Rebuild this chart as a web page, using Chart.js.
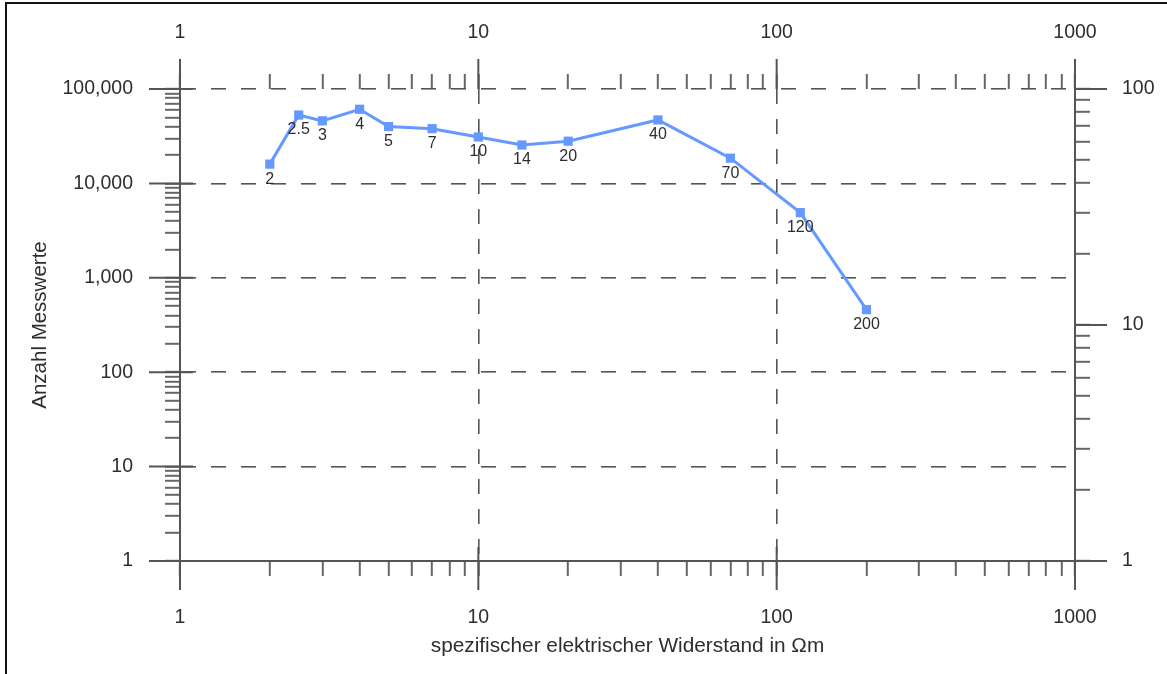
<!DOCTYPE html>
<html>
<head>
<meta charset="utf-8">
<script src="https://cdn.jsdelivr.net/npm/chart.js@4.4.1/dist/chart.umd.min.js"></script>
<style>
  html, body { margin: 0; padding: 0; background: #fff; overflow: hidden; }
  #wrap { position: absolute; left: 0; top: 0; width: 1167px; height: 674px; overflow: hidden; }
  #rahmen { position: absolute; left: 5px; top: 2px; width: 1300px; height: 800px; border: 2px solid #111; }
  canvas { position: absolute; left: 0; top: 0; }
</style>
</head>
<body>
<div id="wrap">
  <div id="rahmen"></div>
  <canvas id="myChart" width="1167" height="674"></canvas>
</div>
<script>
// Messwerte: spezifischer Widerstand (Ohm m) und Anzahl
const widerstand = [2, 2.5, 3, 4, 5, 7, 10, 14, 20, 40, 70, 120, 200];
const anzahl = [16000, 53000, 46000, 61000, 40000, 38000, 31000, 25500, 28000, 47000, 18500, 4900, 460];

// Dekaden der Achsen
const xDekaden = [1, 10, 100, 1000];
const yDekaden = [1, 10, 100, 1000, 10000, 100000];
const y2Dekaden = [1, 10, 100];

const achsFarbe = '#555';
const textFarbe = '#2e2e2e';
const linienFarbe = 'rgb(102,153,255)';

Chart.defaults.font.family = "'Liberation Sans', Arial, sans-serif";

function logTicks(dekaden) {
  let t = [];
  dekaden.forEach(function(d, i) {
    if (i == dekaden.length - 1) { t.push(d); return; }
    for (let k = 1; k < 10; k++) t.push(d * k);
  });
  return t;
}

function istDekade(v, dekaden) {
  return dekaden.some(d => Math.abs(d - v) < d * 1e-9);
}

// lange Striche an den Dekaden
const dekadenStriche = {
  id: 'dekadenStriche',
  afterDraw(chart) {
    const ctx = chart.ctx;
    const a = chart.chartArea;
    const s = chart.scales;
    ctx.save();
    ctx.strokeStyle = achsFarbe;
    ctx.lineWidth = 2;
    ctx.beginPath();
    yDekaden.forEach(function(v) {
      const py = s.y.getPixelForValue(v);
      ctx.moveTo(a.left - 31, py); ctx.lineTo(a.left + 13, py);
    });
    xDekaden.forEach(function(v) {
      const px = s.x.getPixelForValue(v);
      ctx.moveTo(px, a.bottom - 14); ctx.lineTo(px, a.bottom + 29);
      const px2 = s.x2.getPixelForValue(v);
      ctx.moveTo(px2, a.top); ctx.lineTo(px2, a.top - 30);
    });
    y2Dekaden.forEach(function(v) {
      const py = s.y2.getPixelForValue(v);
      ctx.moveTo(a.right, py); ctx.lineTo(a.right + 32, py);
    });
    ctx.stroke();
    ctx.restore();
  }
};

// Beschriftung unter jedem Punkt
const punktLabels = {
  id: 'punktLabels',
  afterDatasetsDraw(chart) {
    const ctx = chart.ctx;
    const meta = chart.getDatasetMeta(0);
    ctx.save();
    ctx.font = "16px 'Liberation Sans', Arial, sans-serif";
    ctx.fillStyle = textFarbe;
    ctx.textAlign = 'center';
    ctx.textBaseline = 'top';
    meta.data.forEach(function(pt, i) {
      ctx.fillText(String(widerstand[i]), pt.x, pt.y + 7);
    });
    ctx.restore();
  }
};

const gitter = function(dekaden, aufFlaeche) {
  return {
    drawOnChartArea: aufFlaeche,
    color: c => (c.tick && istDekade(c.tick.value, dekaden)) ? achsFarbe : 'rgba(0,0,0,0)',
    lineWidth: 1.6,
    tickLength: 15,
    tickColor: '#666',
    tickWidth: 2
  };
};

const tickFont = { size: 19.5 };

const ctx = document.getElementById('myChart').getContext('2d');
myChart = new Chart(ctx, {
  type: 'line',
  data: {
    datasets: [{
      label: 'Anzahl Messwerte',
      data: widerstand.map((w, i) => ({ x: w, y: anzahl[i] })),
      xAxisID: 'x',
      yAxisID: 'y',
      borderColor: linienFarbe,
      borderWidth: 3,
      backgroundColor: linienFarbe,
      pointStyle: 'rect',
      pointRadius: 6.5,
      pointBorderWidth: 0,
      pointBackgroundColor: linienFarbe,
      tension: 0
    }]
  },
  options: {
    responsive: false,
    animation: false,
    layout: { padding: 0 },
    plugins: {
      legend: { display: false },
      tooltip: { enabled: false }
    },
    scales: {
      x: {
        type: 'logarithmic',
        position: 'bottom',
        min: 1, max: 1000,
        afterBuildTicks: sc => { sc.ticks = logTicks(xDekaden).map(v => ({ value: v })); },
        afterFit: sc => { sc.height = 113; },
        grid: gitter(xDekaden, true),
        border: { display: true, color: achsFarbe, width: 2, dash: [15, 15] },
        ticks: {
          autoSkip: false, maxRotation: 0, padding: 30, color: textFarbe, font: tickFont,
          callback: v => istDekade(v, xDekaden) ? String(v) : ''
        },
        title: {
          display: true,
          text: 'spezifischer elektrischer Widerstand in Ωm',
          color: textFarbe,
          font: { size: 20.8 },
          padding: { top: 0, bottom: 15 }
        }
      },
      x2: {
        type: 'logarithmic',
        position: 'top',
        min: 1, max: 1000,
        afterBuildTicks: sc => { sc.ticks = logTicks(xDekaden).map(v => ({ value: v })); },
        afterFit: sc => { sc.height = 89; },
        grid: gitter(xDekaden, false),
        border: { display: false },
        ticks: {
          autoSkip: false, maxRotation: 0, padding: 30, color: textFarbe, font: tickFont,
          callback: v => istDekade(v, xDekaden) ? String(v) : ''
        }
      },
      y: {
        type: 'logarithmic',
        position: 'left',
        min: 1, max: 100000,
        afterBuildTicks: sc => { sc.ticks = logTicks(yDekaden).map(v => ({ value: v })); },
        afterFit: sc => { sc.width = 180; },
        grid: gitter(yDekaden, true),
        border: { display: true, color: achsFarbe, width: 2, dash: [15, 15] },
        ticks: {
          autoSkip: false, padding: 32, color: textFarbe, font: tickFont,
          callback: v => istDekade(v, yDekaden) ? v.toLocaleString('en-US') : ''
        },
        title: {
          display: true,
          text: 'Anzahl Messwerte',
          color: textFarbe,
          font: { size: 20.5 },
          padding: { top: 28, bottom: 0 }
        }
      },
      y2: {
        type: 'logarithmic',
        position: 'right',
        min: 1, max: 100,
        afterBuildTicks: sc => { sc.ticks = logTicks(y2Dekaden).map(v => ({ value: v })); },
        afterFit: sc => { sc.width = 92; },
        grid: gitter(y2Dekaden, false),
        border: { display: true, color: achsFarbe, width: 2 },
        ticks: {
          autoSkip: false, padding: 32, color: textFarbe, font: tickFont,
          callback: v => istDekade(v, y2Dekaden) ? String(v) : ''
        }
      }
    }
  },
  plugins: [dekadenStriche, punktLabels]
});
</script>
</body>
</html>
